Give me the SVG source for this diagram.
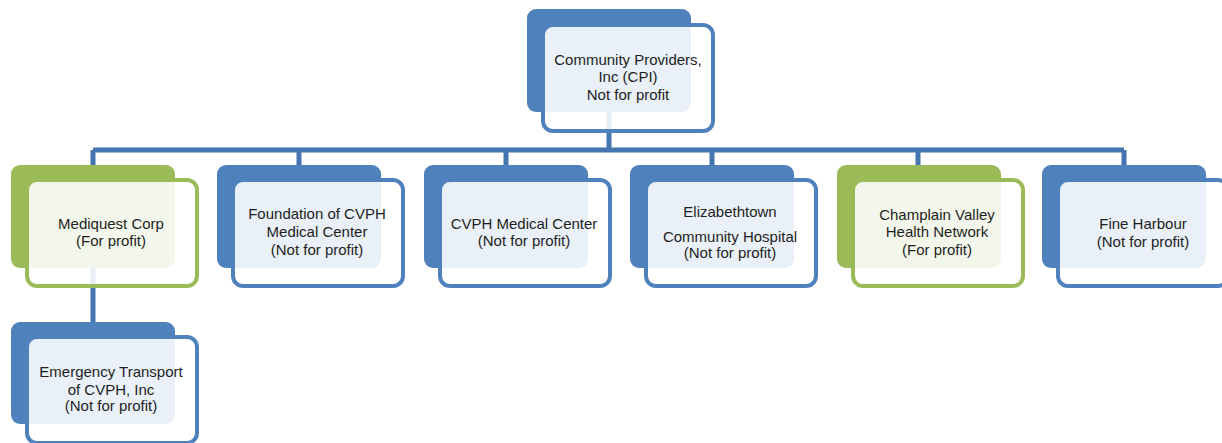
<svg xmlns="http://www.w3.org/2000/svg" width="1222" height="443" viewBox="0 0 1222 443">
<style>
.bb{fill:#4f81bd}
.bg{fill:#9bbb59}
.fb{fill:#ffffff;fill-opacity:0.88;stroke:#4f81bd;stroke-width:4}
.fg{fill:#ffffff;fill-opacity:0.88;stroke:#9bbb59;stroke-width:4}
.c{fill:none;stroke:#4575b0;stroke-width:5}
text{font-family:"Liberation Sans",Arial,sans-serif;font-size:15px;fill:#1e1e1e;text-anchor:middle}
</style>
<rect width="1222" height="443" fill="#ffffff"/>
<g id="connectors">
<path class="c" d="M609 112V150M93 150H1124M93 150V165M299 150V165M506 150V165M712 150V165M918 150V165M1124 150V165M93 268V322"/>
</g>
<g id="cpi">
<rect class="bb" x="527" y="9" width="164" height="103" rx="9"/>
<rect class="fb" x="543" y="25" width="170" height="106" rx="10"/>
<text x="628" y="65">Community Providers,</text>
<text x="628" y="82">Inc (CPI)</text>
<text x="628" y="100">Not for profit</text>
</g>
<g id="mediquest">
<rect class="bg" x="11" y="165" width="164" height="103" rx="9"/>
<rect class="fg" x="27" y="180" width="170" height="106" rx="10"/>
<text x="111" y="229">Mediquest Corp</text>
<text x="111" y="246">(For profit)</text>
</g>
<g id="foundation">
<rect class="bb" x="217" y="165" width="164" height="103" rx="9"/>
<rect class="fb" x="233" y="180" width="170" height="106" rx="10"/>
<text x="317" y="219">Foundation of CVPH</text>
<text x="317" y="237">Medical Center</text>
<text x="317" y="255">(Not for profit)</text>
</g>
<g id="cvph">
<rect class="bb" x="424" y="165" width="164" height="103" rx="9"/>
<rect class="fb" x="440" y="180" width="170" height="106" rx="10"/>
<text x="524" y="229">CVPH Medical Center</text>
<text x="524" y="246">(Not for profit)</text>
</g>
<g id="elizabethtown">
<rect class="bb" x="630" y="165" width="164" height="103" rx="9"/>
<rect class="fb" x="646" y="180" width="170" height="106" rx="10"/>
<text x="730" y="217">Elizabethtown</text>
<text x="730" y="242">Community Hospital</text>
<text x="730" y="258">(Not for profit)</text>
</g>
<g id="champlain">
<rect class="bg" x="837" y="165" width="164" height="103" rx="9"/>
<rect class="fg" x="853" y="180" width="170" height="106" rx="10"/>
<text x="937" y="220">Champlain Valley</text>
<text x="937" y="237">Health Network</text>
<text x="937" y="255">(For profit)</text>
</g>
<g id="fineharbour">
<rect class="bb" x="1042" y="165" width="164" height="103" rx="9"/>
<rect class="fb" x="1058" y="180" width="170" height="106" rx="10"/>
<text x="1143" y="229">Fine Harbour</text>
<text x="1143" y="247">(Not for profit)</text>
</g>
<g id="emergency">
<rect class="bb" x="11" y="322" width="164" height="102" rx="9"/>
<rect class="fb" x="27" y="337" width="170" height="106" rx="10"/>
<text x="111" y="377">Emergency Transport</text>
<text x="111" y="395">of CVPH, Inc</text>
<text x="111" y="411">(Not for profit)</text>
</g>
</svg>
